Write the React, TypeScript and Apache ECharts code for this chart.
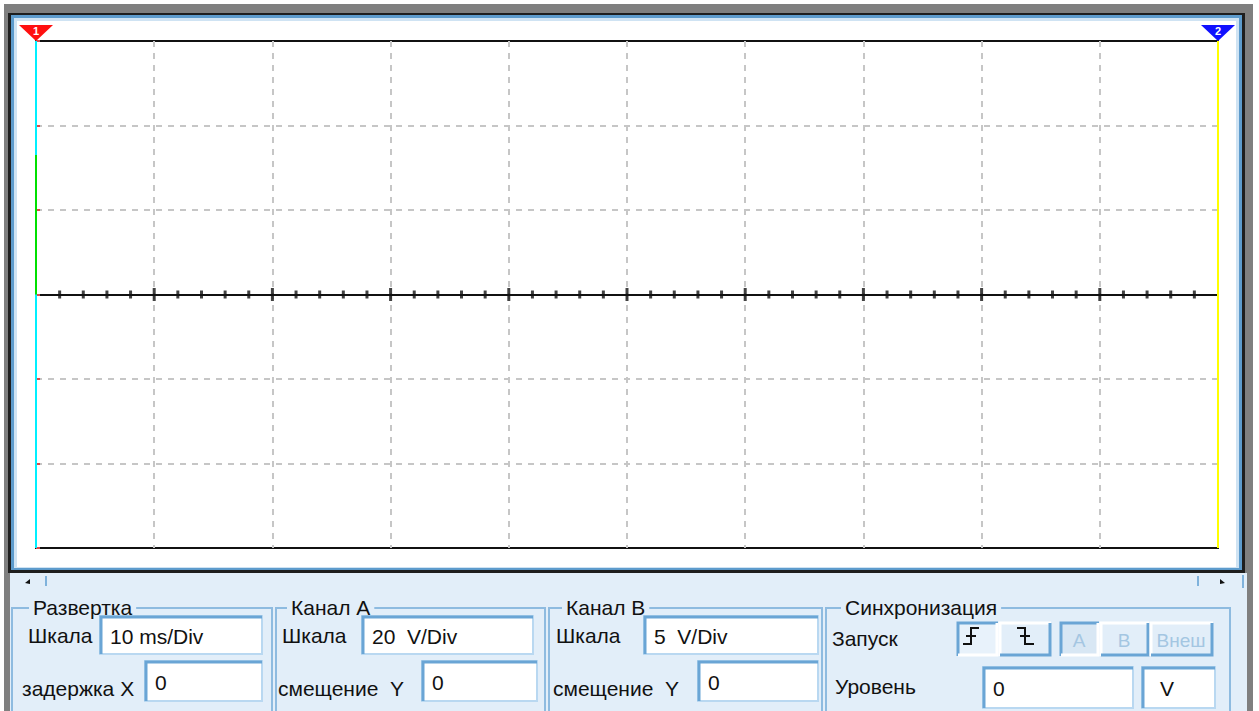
import React, { useEffect, useRef } from "react";
import * as echarts from "echarts";

// Sweep: 10 ms/Div over 10 divisions; channel A: 20 V/Div over 6 divisions
const timeMin = 0;
const timeMax = 100;
const timeDiv = 10;
const voltMin = -60;
const voltMax = 60;
const voltDiv = 20;

// Channel A trace (green)
const channelA: number[][] = [
  [0, 0],
  [0, 33],
];
// Cursor 1 (cyan) and cursor 2 (yellow)
const cursor1: number[][] = [
  [0, -60],
  [0, 60],
];
const cursor2: number[][] = [
  [100, -60],
  [100, 60],
];
// Tick marks along the centre line
const majorTicks = [10, 20, 30, 40, 50, 60, 70, 80, 90];
const minorTicks = [
  2, 4, 6, 8, 12, 14, 16, 18, 22, 24, 26, 28, 32, 34, 36, 38, 42, 44, 46, 48,
  52, 54, 56, 58, 62, 64, 66, 68, 72, 74, 76, 78, 82, 84, 86, 88, 92, 94, 96, 98,
];

// Control panel texts
const groupTitles = ["Развертка", "Канал А", "Канал В", "Синхронизация"];
const sweepFields = ["10 ms/Div", "0"];
const channelAFields = ["20  V/Div", "0"];
const channelBFields = ["5  V/Div", "0"];
const triggerFields = ["0", "V"];
const sourceButtons = ["A", "B", "Внеш"];

const PANEL = "#e2eef9";
const FONT = "'Liberation Sans', Arial, sans-serif";
const DARK_EDGE = "#6aa5d5";
const LIGHT_EDGE = "#b9d8f1";

function label(x: number, y: number, text: string, extra: any = {}) {
  return {
    type: "text",
    x,
    y,
    z: -5,
    style: {
      text,
      fill: "#111",
      fontSize: 21,
      fontFamily: FONT,
      verticalAlign: "middle",
      align: "left",
      ...extra,
    },
  };
}

function inputBox(x: number, y: number, w: number, h: number, text: string, textX?: number) {
  return [
    {
      type: "rect",
      z: -5,
      shape: { x, y, width: w, height: h },
      style: { fill: "#fff", stroke: LIGHT_EDGE, lineWidth: 2 },
    },
    {
      type: "polyline",
      z: -5,
      shape: { points: [[x + 1, y + h], [x + 1, y + 1], [x + w, y + 1]] },
      style: { stroke: DARK_EDGE, lineWidth: 3, fill: null },
    },
    label(textX ?? x + 10, y + h / 2 + 1, text),
  ];
}

function button(x: number, y: number, w: number, h: number, pressed: boolean, fill: string) {
  const tl = pressed ? DARK_EDGE : "#ffffff";
  const br = pressed ? "#ffffff" : DARK_EDGE;
  return [
    {
      type: "rect",
      z: -5,
      shape: { x, y, width: w, height: h },
      style: { fill },
    },
    {
      type: "polyline",
      z: -5,
      shape: { points: [[x + 1, y + h], [x + 1, y + 1], [x + w, y + 1]] },
      style: { stroke: tl, lineWidth: 3, fill: null },
    },
    {
      type: "polyline",
      z: -5,
      shape: { points: [[x + 1, y + h - 1], [x + w - 1, y + h - 1], [x + w - 1, y + 1]] },
      style: { stroke: br, lineWidth: 3, fill: null },
    },
  ];
}

function groupBox(x: number, w: number, title: string, titleX: number) {
  return [
    {
      type: "rect",
      z: -5,
      shape: { x, y: 608, width: w, height: 140 },
      style: { fill: null, stroke: "#8ebbe0", lineWidth: 2 },
    },
    label(titleX, 607, title, { backgroundColor: PANEL, padding: [0, 4, 0, 4] }),
  ];
}

function buildGraphics() {
  const els: any[] = [];
  // window frame
  const frame = [
    { x: 4, y: 4, w: 1249, h: 707, c: "#7f7f7f" },
    { x: 8, y: 13, w: 1237, h: 560, c: "#1e1e1e" },
    { x: 11, y: 15, w: 1231, h: 555, c: "#5d9bcc" },
    { x: 14, y: 18, w: 1225, h: 550, c: "#cfe3f3" },
    { x: 17, y: 21, w: 1219, h: 546, c: "#ffffff" },
    { x: 10, y: 573, w: 1237, h: 138, c: PANEL },
  ];
  frame.forEach((r) =>
    els.push({
      type: "rect",
      z: -10,
      shape: { x: r.x, y: r.y, width: r.w, height: r.h },
      style: { fill: r.c },
    })
  );
  // scroll bar row
  els.push(
    { type: "polygon", z: -5, shape: { points: [[25, 583], [30, 579], [30, 584]] }, style: { fill: "#111" } },
    { type: "line", z: -5, shape: { x1: 46, y1: 576, x2: 46, y2: 586 }, style: { stroke: "#7fb2dc", lineWidth: 2 } },
    { type: "line", z: -5, shape: { x1: 1198, y1: 576, x2: 1198, y2: 586 }, style: { stroke: "#7fb2dc", lineWidth: 2 } },
    { type: "polygon", z: -5, shape: { points: [[1220, 579], [1225, 583], [1220, 584]] }, style: { fill: "#111" } },
    { type: "line", z: -5, shape: { x1: 1243, y1: 575, x2: 1243, y2: 588 }, style: { stroke: "#7fb2dc", lineWidth: 2 } }
  );
  // group boxes
  els.push(...groupBox(12, 260, groupTitles[0], 29));
  els.push(...groupBox(276, 269, groupTitles[1], 287));
  els.push(...groupBox(549, 273, groupTitles[2], 562));
  els.push(...groupBox(826, 404, groupTitles[3], 841));

  // Развертка
  els.push(label(28, 635, "Шкала"));
  els.push(...inputBox(100, 616, 162, 38, sweepFields[0]));
  els.push(label(22, 688, "задержка X"));
  els.push(...inputBox(145, 661, 117, 40, sweepFields[1]));
  // Канал А
  els.push(label(282, 635, "Шкала"));
  els.push(...inputBox(362, 616, 171, 38, channelAFields[0]));
  els.push(label(278, 688, "смещение  Y"));
  els.push(...inputBox(422, 661, 115, 40, channelAFields[1]));
  // Канал В
  els.push(label(556, 635, "Шкала"));
  els.push(...inputBox(644, 616, 174, 38, channelBFields[0]));
  els.push(label(553, 688, "смещение  Y"));
  els.push(...inputBox(698, 661, 120, 40, channelBFields[1]));
  // Синхронизация
  els.push(label(832, 638, "Запуск"));
  els.push(...button(957, 622, 41, 34, true, "#e8f2fb"));
  els.push({
    type: "polyline",
    z: -4,
    shape: { points: [[963, 644], [971, 644], [971, 628], [979, 628]] },
    style: { stroke: "#111", lineWidth: 2, fill: null },
  });
  els.push({ type: "line", z: -4, shape: { x1: 966, y1: 636, x2: 976, y2: 636 }, style: { stroke: "#111", lineWidth: 2 } });
  els.push(...button(999, 622, 52, 34, false, PANEL));
  els.push({
    type: "polyline",
    z: -4,
    shape: { points: [[1017, 628], [1025, 628], [1025, 644], [1034, 644]] },
    style: { stroke: "#111", lineWidth: 2, fill: null },
  });
  els.push({ type: "line", z: -4, shape: { x1: 1020, y1: 636, x2: 1030, y2: 636 }, style: { stroke: "#111", lineWidth: 2 } });
  els.push(...button(1060, 622, 39, 34, true, "#d8e7f4"));
  els.push(label(1079, 640, sourceButtons[0], { fill: "#a4c6e2", align: "center", fontSize: 19 }));
  els.push(...button(1100, 622, 49, 34, false, PANEL));
  els.push(label(1124, 640, sourceButtons[1], { fill: "#a4c6e2", align: "center", fontSize: 19 }));
  els.push(...button(1150, 622, 63, 34, false, PANEL));
  els.push(label(1181, 640, sourceButtons[2], { fill: "#a4c6e2", align: "center", fontSize: 19 }));
  els.push(label(835, 686, "Уровень"));
  els.push(...inputBox(983, 667, 150, 41, triggerFields[0]));
  els.push(...inputBox(1142, 667, 73, 41, triggerFields[1], 1160));
  return els;
}

function cursorMarker(color: string, text: string, x: number) {
  return {
    silent: true,
    data: [
      {
        coord: [x, voltMax],
        symbol: "triangle",
        symbolRotate: 180,
        symbolSize: [34, 16],
        symbolOffset: [0, -8],
        itemStyle: { color },
        label: {
          show: true,
          formatter: text,
          color: "#fff",
          fontWeight: "bold",
          fontSize: 11,
          fontFamily: FONT,
          offset: [0, -2],
        },
      },
    ],
  };
}

export default function App() {
  const ref = useRef<HTMLDivElement>(null);

  useEffect(() => {
    if (!ref.current) return;
    const chart = echarts.init(ref.current, null, { renderer: "svg" });
    const tickData = (list: number[]) => list.map((t) => [t, 0]);
    const dashed = { color: "#c6c6c6", width: 2, type: [6, 6] };
    chart.setOption({
      animation: false,
      backgroundColor: "#ffffff",
      grid: {
        left: 36,
        right: 41,
        top: 41,
        bottom: 163,
        show: true,
        borderColor: "#111",
        borderWidth: 2,
        backgroundColor: "transparent",
      },
      xAxis: {
        type: "value",
        min: timeMin,
        max: timeMax,
        interval: timeDiv,
        axisLine: { onZero: true, lineStyle: { color: "#111", width: 2 } },
        axisTick: { show: false },
        axisLabel: { show: false },
        splitLine: { show: true, showMinLine: false, showMaxLine: false, lineStyle: dashed },
      },
      yAxis: {
        type: "value",
        min: voltMin,
        max: voltMax,
        interval: voltDiv,
        axisLine: { show: false },
        axisTick: { show: true, inside: true, length: 4, lineStyle: { color: "#d84a4a", width: 2 } },
        axisLabel: { show: false },
        splitLine: { show: true, showMinLine: false, showMaxLine: false, lineStyle: dashed },
      },
      graphic: { elements: buildGraphics() },
      series: [
        {
          name: "Курсор 1",
          type: "line",
          data: cursor1,
          symbol: "none",
          z: 3,
          lineStyle: { color: "#00f0ff", width: 2 },
          markPoint: cursorMarker("#ff1010", "1", 0),
        },
        {
          name: "Курсор 2",
          type: "line",
          data: cursor2,
          symbol: "none",
          z: 3,
          lineStyle: { color: "#ffff00", width: 2 },
          markPoint: cursorMarker("#1010ff", "2", 100),
        },
        {
          name: "Канал А",
          type: "line",
          data: channelA,
          symbol: "none",
          z: 4,
          lineStyle: { color: "#00e000", width: 2 },
        },
        {
          name: "Деления",
          type: "scatter",
          data: tickData(majorTicks),
          symbol: "rect",
          symbolSize: [3, 13],
          z: 5,
          itemStyle: { color: "#111" },
        },
        {
          name: "Подделения",
          type: "scatter",
          data: tickData(minorTicks),
          symbol: "rect",
          symbolSize: [3, 8],
          z: 5,
          itemStyle: { color: "#111" },
        },
      ],
    });
    return () => chart.dispose();
  }, []);

  return (
    <div
      ref={ref}
      style={{ position: "fixed", left: 0, top: 0, width: 1259, height: 711 }}
    />
  );
}
